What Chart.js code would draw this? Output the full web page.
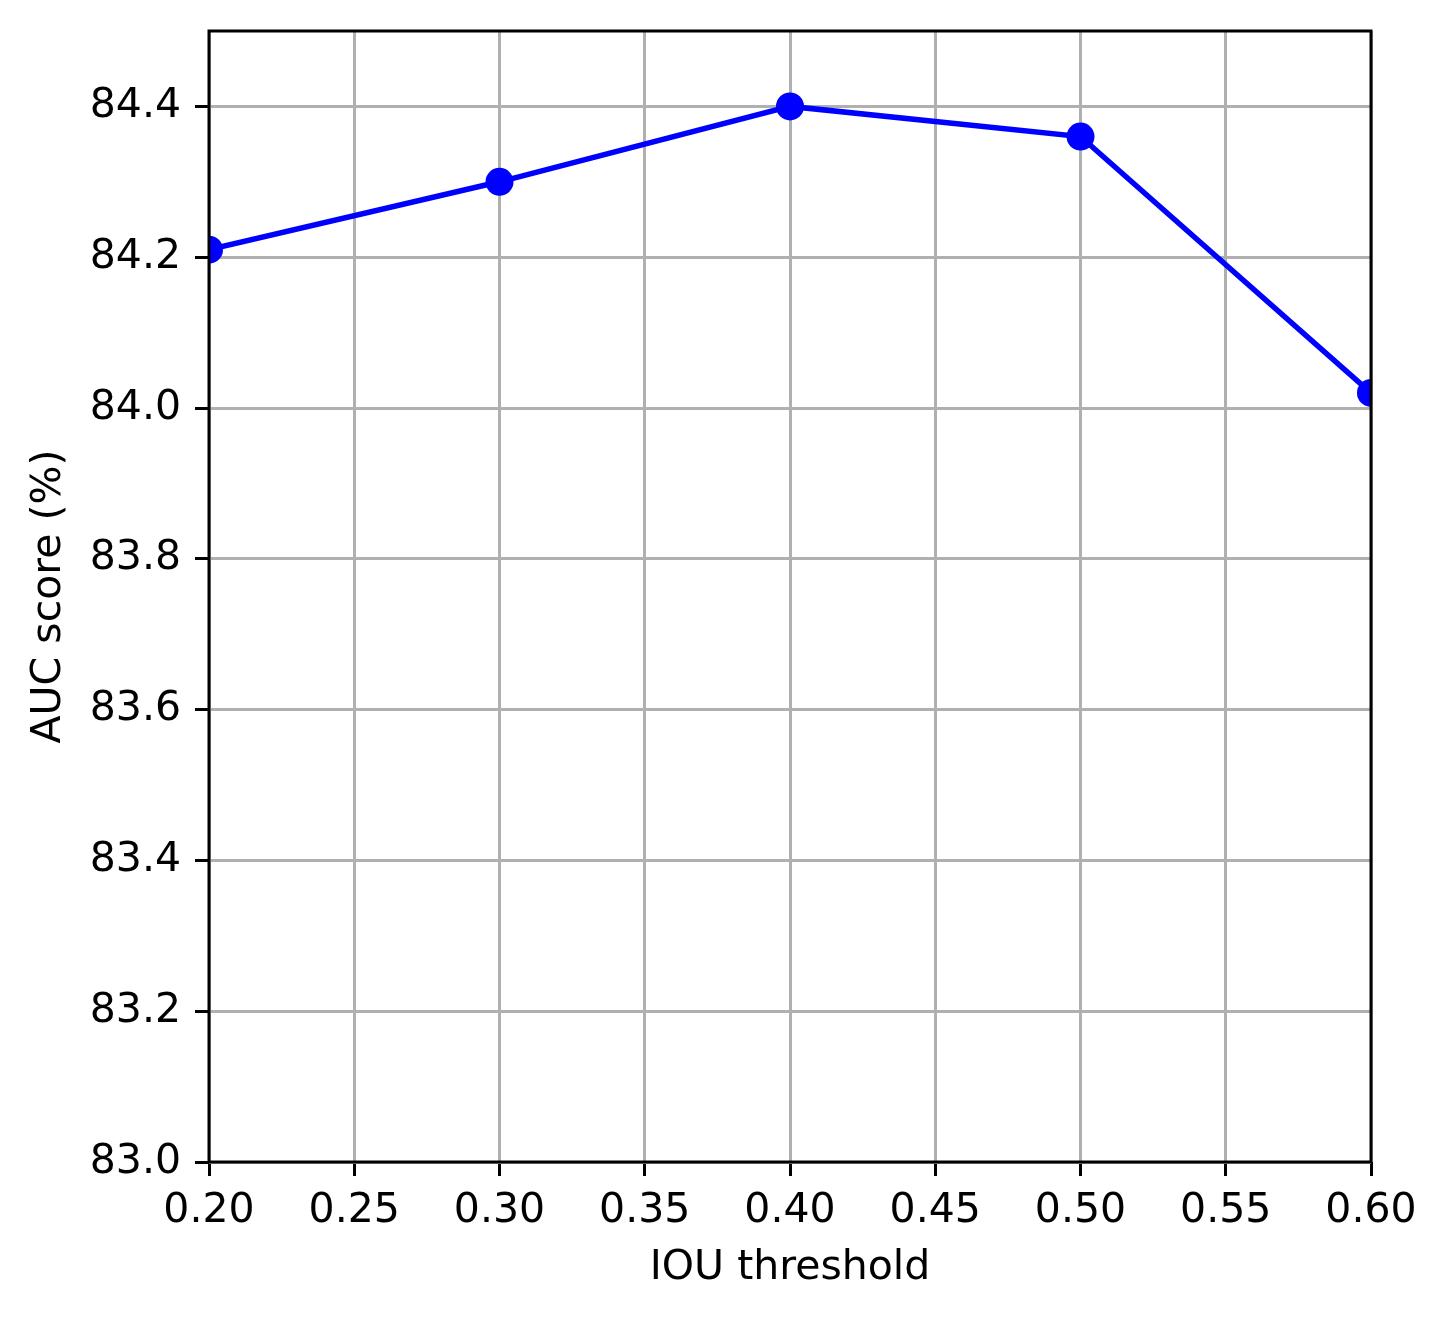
<!DOCTYPE html>
<html>
<head>
<meta charset="utf-8">
<script src="https://cdn.jsdelivr.net/npm/chart.js@4/dist/chart.umd.min.js"></script>
<style>
  html, body { margin: 0; padding: 0; background: #ffffff; }
  canvas { display: block; }
</style>
</head>
<body>
<canvas id="c" width="1447" height="1318"></canvas>
<script>
const iouThresholds = [0.2, 0.3, 0.4, 0.5, 0.6];
const aucScores = [84.21, 84.30, 84.40, 84.36, 84.02];
const xTickValues = [0.20, 0.25, 0.30, 0.35, 0.40, 0.45, 0.50, 0.55, 0.60];
const yTickValues = [83.0, 83.2, 83.4, 83.6, 83.8, 84.0, 84.2, 84.4];
const xTitle = 'IOU threshold';
const yTitle = 'AUC score (%)';

const FONT = { family: '"DejaVu Sans", sans-serif', size: 41 };
const GRID = '#b0b0b0';

const framePlugin = {
  id: 'frame',
  afterDraw(chart) {
    const { ctx, chartArea: a } = chart;
    ctx.save();
    ctx.strokeStyle = '#000000';
    ctx.lineWidth = 3;
    ctx.strokeRect(a.left, a.top, a.right - a.left, a.bottom - a.top);
    ctx.restore();
  }
};

new Chart(document.getElementById('c'), {
  type: 'line',
  data: {
    datasets: [{
      data: iouThresholds.map((x, i) => ({ x: x, y: aucScores[i] })),
      borderColor: '#0000ff',
      backgroundColor: '#0000ff',
      borderWidth: 5.5,
      pointRadius: 14,
      pointHoverRadius: 14,
      pointBorderWidth: 0,
      pointBackgroundColor: '#0000ff',
      tension: 0,
      clip: 0
    }]
  },
  options: {
    responsive: false,
    animation: false,
    events: [],
    layout: { padding: { left: 0, top: 31, right: 76, bottom: 0 } },
    plugins: { legend: { display: false }, tooltip: { enabled: false } },
    scales: {
      x: {
        type: 'linear',
        min: 0.2,
        max: 0.6,
        afterBuildTicks: (s) => { s.ticks = xTickValues.map(v => ({ value: v })); },
        afterFit: (s) => { s.height = 156; s.paddingLeft = 0; s.paddingRight = 0; },
        grid: { color: GRID, lineWidth: 3, tickColor: '#000000', tickLength: 14, tickWidth: 3 },
        border: { display: false },
        ticks: {
          color: '#000000',
          font: FONT,
          padding: 11,
          maxRotation: 0,
          autoSkip: false,
          callback: (v) => Number(v).toFixed(2)
        },
        title: {
          display: true,
          text: xTitle,
          color: '#000000',
          font: FONT,
          padding: { top: 0, bottom: 25 }
        }
      },
      y: {
        type: 'linear',
        min: 83.0,
        max: 84.5,
        afterBuildTicks: (s) => { s.ticks = yTickValues.map(v => ({ value: v })); },
        afterFit: (s) => { s.width = 209; s.paddingTop = 0; s.paddingBottom = 0; },
        grid: { color: GRID, lineWidth: 3, tickColor: '#000000', tickLength: 14, tickWidth: 3 },
        border: { display: false },
        ticks: {
          color: '#000000',
          font: FONT,
          padding: 14,
          autoSkip: false,
          callback: (v) => Number(v).toFixed(1)
        },
        title: {
          display: true,
          text: yTitle,
          color: '#000000',
          font: FONT,
          padding: { top: 25, bottom: 0 }
        }
      }
    }
  },
  plugins: [framePlugin]
});
</script>
</body>
</html>
